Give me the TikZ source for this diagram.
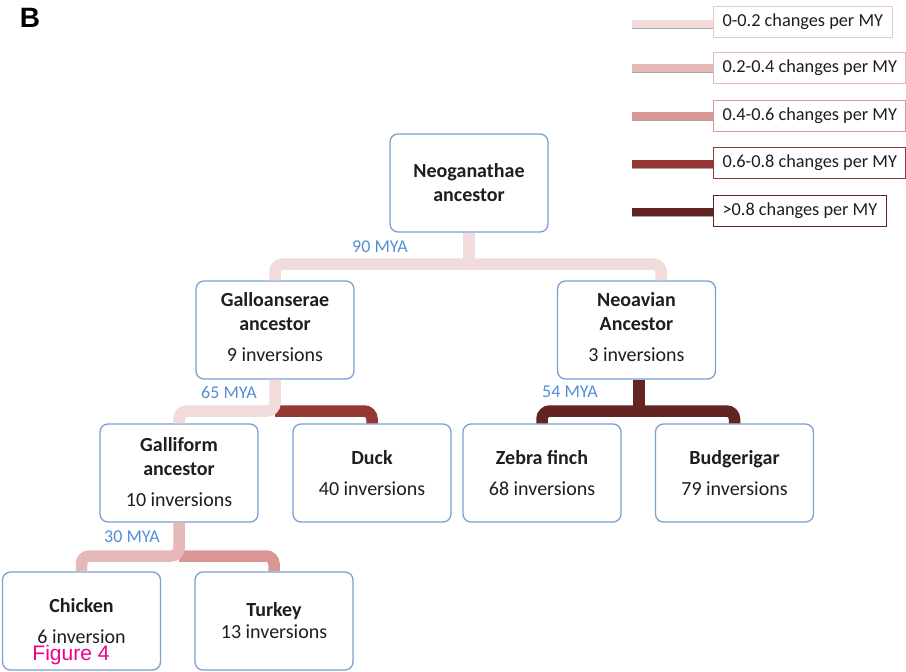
\documentclass[tikz,border=0pt]{standalone}
\usepackage{fontspec}
\setmainfont{Carlito}
\newfontfamily\arialfont{Liberation Sans}
\definecolor{cA}{HTML}{F2DCDB}
\definecolor{cB}{HTML}{E6B9B8}
\definecolor{cC}{HTML}{D99694}
\definecolor{cD}{HTML}{953735}
\definecolor{cE}{HTML}{632523}
\definecolor{legA}{HTML}{E8C6C6}
\definecolor{boxblue}{HTML}{7BA0D2}
\definecolor{myablue}{HTML}{558ED5}
\definecolor{txt}{HTML}{1E1E1E}
\begin{document}
\begin{tikzpicture}[x=1pt,y=-1pt,
  taxon/.style={draw=boxblue,line width=1.3pt,rounded corners=8pt,fill=white,
    minimum width=158pt,minimum height=98pt,align=center,inner sep=0pt,
    text=txt,font=\fontsize{20}{24}\selectfont},
  branch/.style={line width=11.5pt,rounded corners=8pt},
  mya/.style={text=myablue,font=\fontsize{18}{20}\selectfont,inner sep=0pt},
  legbox/.style={line width=1pt,anchor=west,inner xsep=9pt,minimum height=31pt,
    text=txt,font=\fontsize{18.3}{20}\selectfont,fill=white},
  legbar/.style={line width=8pt},
  legshadow/.style={line width=3pt,draw=black!35}
]
\useasboundingbox (0,0) rectangle (906,672);

% nodes
\node[taxon] (neo) at (469,183) {\textbf{Neoganathae}\\\textbf{ancestor}};
\node[taxon] (gal) at (275,330) {\textbf{Galloanserae}\\\textbf{ancestor}\\[7pt]9 inversions\rule[-6pt]{0pt}{6pt}};
\node[taxon] (neoav) at (636.5,330) {\textbf{Neoavian}\\\textbf{Ancestor}\\[7pt]3 inversions\rule[-6pt]{0pt}{6pt}};
\node[taxon] (galli) at (179,473) {\textbf{Galliform}\\\textbf{ancestor}\\[7pt]10 inversions\rule[-3pt]{0pt}{3pt}};
\node[taxon] (duck) at (372,473) {\textbf{Duck}\\[7pt]40 inversions};
\node[taxon] (zebra) at (542,473) {\textbf{Zebra finch}\\[7pt]68 inversions};
\node[taxon] (budg) at (734.5,473) {\textbf{Budgerigar}\\[7pt]79 inversions};
\node[taxon] (chick) at (81.5,621) {\textbf{Chicken}\\[7pt]6 inversion};
\node[taxon] (turkey) at (274,621) {\textbf{Turkey}\\[-2pt]13 inversions};

% junction coordinates
\coordinate (j1) at (neo.south |- 0,264);
\coordinate (r1) at (661,280);
\coordinate (j2) at (gal.south |- 0,411);
\coordinate (j3) at (639,411);
\coordinate (n3) at (639,380);
\coordinate (j4) at (galli.south |- 0,556);

% branches
\draw[branch,cA] (neo.south) -- (j1);
\draw[branch,cA] (gal.north) |- (j1) -| (r1);
\draw[branch,cD] (j2) -| (duck.north);
\draw[branch,cA] (gal.south) -- (j2) -| (galli.north);
\draw[branch,cE] (n3) -- (j3);
\draw[branch,cE] (zebra.north) |- (j3) -| (budg.north);
\draw[branch,cC] (j4) -| (turkey.north);
\draw[branch,cB] (galli.south) -- (j4) -| (chick.north);

% MYA labels
\node[mya] (m90) at (380,247) {90 MYA};
\node[mya] (m65) at (229,392) {65 MYA};
\node[mya] (m54) at (570,392) {54 MYA};
\node[mya] (m30) at (132,537) {30 MYA};

% legend
\node[legbox,draw=legA] (l1) at (713,22) {0-0.2 changes per MY};
\node[legbox,draw=cB] (l2) at (713,67.5) {0.2-0.4 changes per MY};
\node[legbox,draw=cC] (l3) at (713,116) {0.4-0.6 changes per MY};
\node[legbox,draw=cD] (l4) at (713,162.5) {0.6-0.8 changes per MY};
\node[legbox,draw=cE] (l5) at (713,211) {>0.8 changes per MY};
\coordinate (b1) at (632,24);
\coordinate (b2) at (632,68);
\coordinate (b3) at (632,116);
\coordinate (b4) at (632,164);
\coordinate (b5) at (632,212);
\foreach \b/\l/\c in {b1/l1/cA,b2/l2/cB,b3/l3/cC,b4/l4/cD,b5/l5/cE}{
  \draw[legshadow] ([yshift=-3pt]\b) -- ([yshift=-3pt]\b -| \l.west);
  \draw[legbar,draw=\c] (\b) -- (\b -| \l.west);
}

% panel letter and caption
\node[font=\arialfont\bfseries\fontsize{28}{30}\selectfont,inner sep=0pt] (B) at (30,18) {B};
\node[font=\arialfont\fontsize{21}{24}\selectfont,text=magenta,inner sep=0pt] (fig) at (71,655.5) {Figure 4};
\end{tikzpicture}
\end{document}
